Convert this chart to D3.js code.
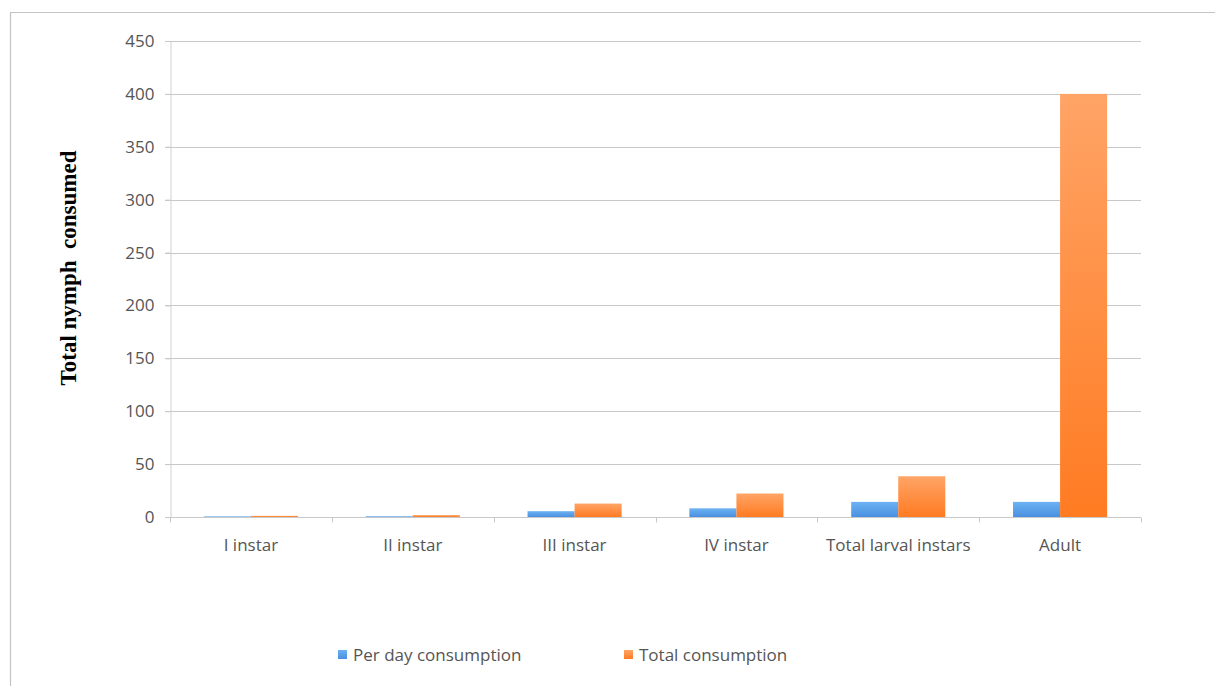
<!DOCTYPE html>
<html>
<head>
<meta charset="utf-8">
<script src="https://cdn.jsdelivr.net/npm/d3@7"></script>
<style>
  html, body { margin: 0; padding: 0; background: #fff; }
  svg { display: block; }
</style>
</head>
<body>
<svg id="chart" width="1215" height="686"></svg>
<script>
// Consumption of nymphs by each predator stage
const categories = ["I instar", "II instar", "III instar", "IV instar", "Total larval instars", "Adult"];
const perDay = [0.6, 0.7, 5.5, 8.2, 14.3, 14.3];
const total = [1.1, 1.8, 12.7, 22.2, 38.5, 400];
const seriesNames = ["Per day consumption", "Total consumption"];
const yTicks = [0, 50, 100, 150, 200, 250, 300, 350, 400, 450];

const svg = d3.select("#chart");
const W = 1215, H = 686;
const plot = { left: 170, right: 1141, top: 41, bottom: 517 };

// outer chart frame
svg.append("path")
  .attr("d", `M10.5,${H} V12.5 H${W}`)
  .attr("fill", "none").attr("stroke", "#c4c4c4").attr("stroke-width", 1.2);

const defs = svg.append("defs");
function grad(id, top, bottom) {
  const g = defs.append("linearGradient").attr("id", id)
    .attr("x1", 0).attr("y1", 0).attr("x2", 0).attr("y2", 1);
  g.append("stop").attr("offset", "0%").attr("stop-color", top);
  g.append("stop").attr("offset", "100%").attr("stop-color", bottom);
}
grad("gBlue", "#6cb2f3", "#4a90e0");
grad("gOrange", "#ffa466", "#ff7b22");

const x0 = d3.scaleBand().domain(categories).range([plot.left, plot.right]).paddingInner(0).paddingOuter(0);
const x1 = d3.scaleBand().domain(seriesNames).range([0, x0.bandwidth()]).paddingInner(0).paddingOuter(0.72);
const y = d3.scaleLinear().domain([0, 450]).range([plot.bottom, plot.top]);

const font = "'Open Sans', 'Liberation Sans', sans-serif";
const fs = 17;

// gridlines
svg.append("g").selectAll("line").data(yTicks.filter(d => d > 0)).join("line")
  .attr("x1", plot.left - 5).attr("x2", plot.right)
  .attr("y1", d => Math.round(y(d)) + 0.5).attr("y2", d => Math.round(y(d)) + 0.5)
  .attr("stroke", "#c8c8c8").attr("stroke-width", 1);

// y axis
const yAxis = svg.append("g").attr("transform", `translate(${plot.left + 0.5},0)`)
  .call(d3.axisLeft(y).tickValues(yTicks).tickSize(5).tickPadding(11));
yAxis.select(".domain").attr("stroke", "#d0d0d0");
yAxis.selectAll(".tick line").attr("stroke", "#c8c8c8");
yAxis.selectAll(".tick text").attr("font-family", font).attr("font-size", fs).attr("fill", "#555");

// bars
const groups = svg.append("g").selectAll("g").data(categories).join("g")
  .attr("transform", d => `translate(${x0(d)},0)`);
groups.append("rect")
  .attr("x", x1(seriesNames[0])).attr("width", x1.bandwidth())
  .attr("y", (d, i) => y(perDay[i])).attr("height", (d, i) => y(0) - y(perDay[i]))
  .attr("fill", "url(#gBlue)");
groups.append("rect")
  .attr("x", x1(seriesNames[1])).attr("width", x1.bandwidth())
  .attr("y", (d, i) => y(total[i])).attr("height", (d, i) => y(0) - y(total[i]))
  .attr("fill", "url(#gOrange)");

// x axis
const xAxis = svg.append("g").attr("transform", `translate(0,${plot.bottom + 0.5})`);
xAxis.append("line").attr("x1", plot.left - 5).attr("x2", plot.right)
  .attr("stroke", "#c8c8c8");
const boundaries = categories.map(c => x0(c)).concat([plot.right]);
xAxis.selectAll(".tk").data(boundaries).join("line").attr("class", "tk")
  .attr("x1", d => Math.round(d) + 0.5).attr("x2", d => Math.round(d) + 0.5)
  .attr("y1", 0).attr("y2", 5).attr("stroke", "#c8c8c8");
xAxis.selectAll("text").data(categories).join("text")
  .attr("x", d => x0(d) + x0.bandwidth() / 2).attr("y", 33)
  .attr("text-anchor", "middle")
  .attr("font-family", font).attr("font-size", fs).attr("fill", "#555")
  .text(d => d);

// y axis title
svg.append("text")
  .attr("transform", `translate(76,${268}) rotate(-90)`)
  .attr("text-anchor", "middle")
  .style("white-space", "pre")
  .attr("font-family", "'Liberation Serif', 'Times New Roman', serif")
  .attr("font-weight", "bold").attr("font-size", 23).attr("fill", "#000")
  .text("Total nymph  consumed");

// legend
const legendX = [338, 624];
const legendFill = ["url(#gBlue)", "url(#gOrange)"];
const lg = svg.append("g").selectAll("g").data(seriesNames).join("g")
  .attr("transform", (d, i) => `translate(${legendX[i]},655)`);
lg.append("rect").attr("x", 0).attr("y", -5).attr("width", 9).attr("height", 9)
  .attr("fill", (d, i) => legendFill[i]);
lg.append("text").attr("x", 15).attr("y", 6)
  .attr("font-family", font).attr("font-size", fs).attr("fill", "#555")
  .text(d => d);
</script>
</body>
</html>
